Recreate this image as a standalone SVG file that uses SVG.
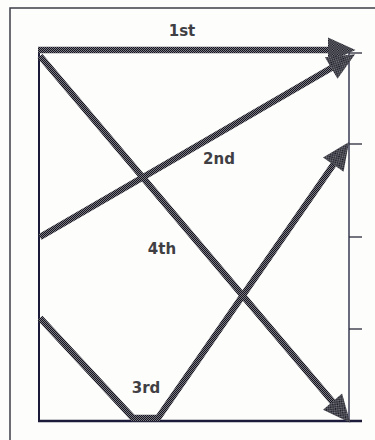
<svg xmlns="http://www.w3.org/2000/svg" width="375" height="440" viewBox="0 0 375 440">
  <defs>
    <pattern id="dither" width="2" height="2" patternUnits="userSpaceOnUse">
      <rect width="2" height="2" fill="#7a7a80"/>
      <rect x="0" y="0" width="1" height="1" fill="#141420"/>
      <rect x="1" y="1" width="1" height="1" fill="#141420"/>
    </pattern>
    <marker id="head" markerUnits="userSpaceOnUse" markerWidth="30" markerHeight="30" viewBox="0 -12 24 24" refX="8" refY="0" orient="auto" overflow="visible">
      <path d="M0,-10 L22,0 L0,10 Z" fill="url(#dither)"/>
    </marker>
    <style>
      .frame { stroke: #3c3c4a; stroke-width: 1.5; fill: none; }
      .axis { stroke: #1c1c3a; fill: none; }
      .tick { stroke: #2a2a3a; stroke-width: 1.3; }
      .arrow { stroke: url(#dither); stroke-width: 6.5; fill: none; stroke-linejoin: miter; marker-end: url(#head); }
      .lbl { font-family: "DejaVu Sans", "Liberation Sans", sans-serif; font-size: 15px; font-weight: bold; fill: #404044; }
    </style>
  </defs>
  <rect width="375" height="440" fill="#fdfdfb"/>
  <g id="frame">
    <path class="frame" d="M10,440 V8 H375"/>
  </g>
  <g id="axes">
    <line class="axis" x1="39" y1="50" x2="39" y2="421" stroke-width="2"/>
    <line class="axis" x1="38" y1="421" x2="362" y2="421" stroke-width="2.5"/>
    <line class="axis" x1="349" y1="52" x2="349" y2="421" stroke-width="1.3"/>
    <line class="tick" x1="349" y1="53" x2="362" y2="53"/>
    <line class="tick" x1="349" y1="144" x2="362" y2="144"/>
    <line class="tick" x1="349" y1="237" x2="362" y2="237"/>
    <line class="tick" x1="349" y1="329" x2="362" y2="329"/>
  </g>
  <g id="connectors">
    <path id="arrow-1st" class="arrow" d="M38,50 H338"/>
    <path id="arrow-2nd" class="arrow" d="M40,237 L339.9,63"/>
    <path id="arrow-3rd" class="arrow" d="M40,318 L133,418 H158 L339,156.5"/>
    <path id="arrow-4th" class="arrow" d="M40,56 L339,409.3"/>
  </g>
  <g id="label-1st"><text class="lbl" x="182" y="36" text-anchor="middle">1st</text></g>
  <g id="label-2nd"><text class="lbl" x="219" y="164" text-anchor="middle">2nd</text></g>
  <g id="label-4th"><text class="lbl" x="162" y="254" text-anchor="middle">4th</text></g>
  <g id="label-3rd"><text class="lbl" x="146" y="393" text-anchor="middle">3rd</text></g>
</svg>
